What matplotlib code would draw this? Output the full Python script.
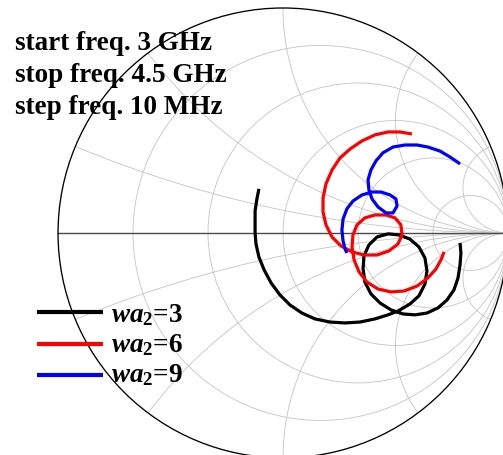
import numpy as np
import matplotlib
matplotlib.use('Agg')
from matplotlib import pyplot as plt
from matplotlib.patches import Circle
from matplotlib.lines import Line2D

plt.rcParams['font.family'] = 'Liberation Serif'
plt.rcParams['mathtext.fontset'] = 'custom'
plt.rcParams['mathtext.it'] = 'Liberation Serif:bold:italic'
plt.rcParams['mathtext.rm'] = 'Liberation Serif:bold'
plt.rcParams['mathtext.bf'] = 'Liberation Serif:bold'

# reflection coefficient loci (real, imag), 3 - 4.5 GHz sweep
wa3_re = [-0.107, -0.116, -0.124, -0.124, -0.124, -0.120, -0.107, -0.084, -0.053, -0.013,
          0.031, 0.084, 0.142, 0.209, 0.276, 0.342, 0.409, 0.467, 0.511, 0.564,
          0.604, 0.631, 0.640, 0.631, 0.604, 0.564, 0.516, 0.467, 0.418, 0.382,
          0.360, 0.356, 0.364, 0.391, 0.431, 0.480, 0.533, 0.587, 0.640, 0.689,
          0.729, 0.760, 0.778, 0.787, 0.791, 0.787]
wa3_im = [0.196, 0.151, 0.098, 0.044, 0.000, -0.049, -0.107, -0.164, -0.222, -0.276,
          -0.320, -0.356, -0.382, -0.396, -0.400, -0.396, -0.382, -0.364, -0.347, -0.316,
          -0.280, -0.227, -0.169, -0.111, -0.062, -0.027, -0.009, -0.004, -0.018, -0.053,
          -0.102, -0.160, -0.218, -0.271, -0.311, -0.342, -0.360, -0.364, -0.356, -0.333,
          -0.298, -0.253, -0.200, -0.142, -0.089, -0.044]

wa6_re = [0.573, 0.520, 0.467, 0.409, 0.351, 0.298, 0.253, 0.218, 0.191, 0.178,
          0.178, 0.191, 0.218, 0.258, 0.307, 0.360, 0.418, 0.471, 0.511, 0.529,
          0.524, 0.498, 0.458, 0.409, 0.364, 0.329, 0.311, 0.307, 0.316, 0.338,
          0.373, 0.422, 0.480, 0.538, 0.596, 0.644, 0.680, 0.702, 0.716]
wa6_im = [0.440, 0.449, 0.449, 0.436, 0.409, 0.373, 0.333, 0.280, 0.218, 0.156,
          0.093, 0.036, -0.018, -0.058, -0.084, -0.098, -0.098, -0.080, -0.049, -0.009,
          0.036, 0.067, 0.080, 0.080, 0.067, 0.036, -0.009, -0.062, -0.120, -0.173,
          -0.218, -0.249, -0.262, -0.258, -0.236, -0.200, -0.160, -0.120, -0.084]

wa9_re = [0.787, 0.742, 0.698, 0.644, 0.596, 0.542, 0.489, 0.444, 0.413, 0.391,
          0.378, 0.382, 0.396, 0.422, 0.458, 0.489, 0.507, 0.502, 0.476, 0.436,
          0.396, 0.351, 0.311, 0.284, 0.267, 0.262, 0.267, 0.276, 0.284]
wa9_im = [0.307, 0.338, 0.364, 0.382, 0.391, 0.391, 0.382, 0.356, 0.320, 0.280,
          0.236, 0.191, 0.151, 0.116, 0.089, 0.089, 0.120, 0.151, 0.169, 0.182,
          0.182, 0.169, 0.142, 0.107, 0.062, 0.013, -0.036, -0.071, -0.089]

labels = ['3', '6', '9']
colors = ['black', 'red', 'blue']

r_grid = [0.2, 0.5, 1, 2, 5]
x_grid = [0.2, 0.5, 1, 2, 5]

fig = plt.figure(figsize=(5.03, 4.56), dpi=100)
ax = fig.add_axes([0, 0, 1, 1])
ax.set_xlim(-1.258, 0.978)
ax.set_ylim(-0.987, 1.04)
ax.axis('off')

grid_kw = dict(fill=False, ec='#c4c4c4', lw=0.6)
border = Circle((0, 0), 1, fill=False, ec='black', lw=0.95, zorder=3)
ax.add_patch(border)
for r in r_grid:
    ax.add_patch(Circle((r / (1 + r), 0), 1 / (1 + r), **grid_kw))
for x in x_grid:
    for s in (1, -1):
        c = Circle((1, s / x), 1 / x, **grid_kw)
        ax.add_patch(c)
        c.set_clip_path(border)
ax.plot([-1, 1], [0, 0], color='#4a4a4a', lw=1.0, zorder=2)

curves = [(wa3_re, wa3_im), (wa6_re, wa6_im), (wa9_re, wa9_im)]
for (re, im), col in zip(curves, colors):
    ax.plot(re, im, color=col, lw=2.3, solid_capstyle='butt', zorder=4)

W, H = 503, 456
FS = 19.5
info = ['start freq. 3 GHz', 'stop freq. 4.5 GHz', 'step freq. 10 MHz']
for i, t in enumerate(info):
    fig.text(15 / W, 1 - (49.5 + 32 * i) / H, t, fontsize=FS, fontweight='bold',
             va='baseline', ha='left', zorder=5)

# legend
for i, (lab, col) in enumerate(zip(labels, colors)):
    yl = 1 - (313 + 31.5 * i) / H
    fig.add_artist(Line2D([37 / W, 103 / W], [yl, yl], color=col, lw=3.0,
                          solid_capstyle='butt'))
    fig.text(111 / W, 1 - (322 + 30 * i) / H, r'$wa_2$=' + lab, fontsize=FS,
             fontweight='bold', va='baseline', ha='left')

fig.savefig('out.png', dpi=100)
